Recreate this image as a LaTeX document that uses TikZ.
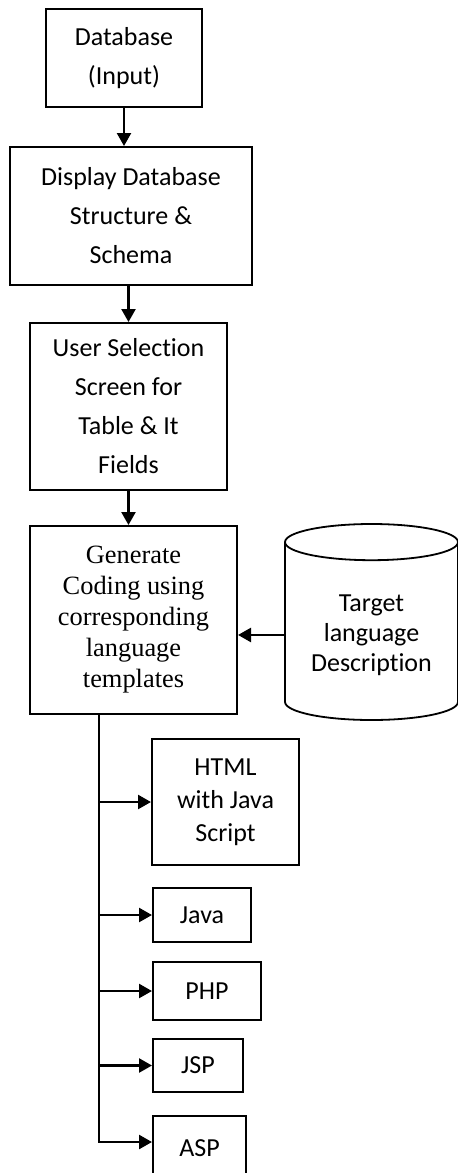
\documentclass[tikz,border=0pt]{standalone}
\usepackage{fontspec}
\setmainfont{Carlito}[Ligatures=NoCommon]
\newfontfamily\timesfont{Liberation Serif}
\usetikzlibrary{positioning, calc, arrows.meta, shapes.geometric}
\tikzset{
    box/.style={rectangle, draw=black, line width=1pt, align=center, inner sep=2pt, font=\fontsize{13}{19.5}\selectfont},
    smallbox/.style={box, font=\fontsize{13}{16.5}\selectfont},
    store/.style={cylinder, shape border rotate=90, draw=black, line width=0.9pt, align=center, aspect=0.27, font=\fontsize{13}{15}\selectfont},
    arrow/.style={-{Triangle[length=6.5pt, width=7pt]}, line width=1.2pt},
}

\begin{document}
\begin{tikzpicture}[x=0.5pt, y=-0.5pt]
    \useasboundingbox (0,0) rectangle (458,1173);
    \clip (0,0) rectangle (458,1173);
    % main flow
    \node[box, minimum width=78pt, minimum height=49pt] (db) at (124,58) {Database\\(Input)};
    \node[box, minimum width=121pt, minimum height=69pt] (disp) at (131,216) {Display Database\\Structure \&\\Schema};
    \node[box, minimum width=98.5pt, minimum height=83.5pt] (sel) at (128.5,406.5) {User Selection\\Screen for\\Table \& It\\Fields};
    \node[box, minimum width=103.5pt, minimum height=94pt, font=\timesfont\fontsize{13.2}{15.5}\selectfont] (gen) at (133.5,620)
        {Generate\\Coding using\\corresponding\\language\\templates};
    \node[store, minimum width=86.5pt, minimum height=98pt, anchor=shape center] (target) at (371.5,622) {Target\\language\\Description};

    % output languages
    \node[smallbox, minimum width=73.5pt, minimum height=63pt] (html) at (225.5,802) {HTML\\with Java\\Script};
    \node[smallbox, minimum width=49pt, minimum height=27pt] (java) at (202,915) {Java};
    \node[smallbox, minimum width=54pt, minimum height=29pt] (php) at (207,991) {PHP};
    \node[smallbox, minimum width=45pt, minimum height=26.5pt] (jsp) at (198,1065.5) {JSP};
    \node[smallbox, minimum width=46.5pt, minimum height=32pt] (asp) at (199.5,1148) {ASP};

    \draw[arrow] (db.south) -- (db.south |- disp.north);
    \draw[arrow] (sel.north |- disp.south) -- (sel.north);
    \draw[arrow] (sel.south) -- (sel.south |- gen.north);
    \draw[arrow] (target.west) -- (target.west -| gen.east);

    \coordinate (tr) at (99,714);
    \draw[arrow] (tr) |- ([yshift=3pt]asp.west);
    \foreach \lang in {html, java, php, jsp}
        \draw[arrow] (tr |- \lang.west) -- (\lang.west);
\end{tikzpicture}
\end{document}
